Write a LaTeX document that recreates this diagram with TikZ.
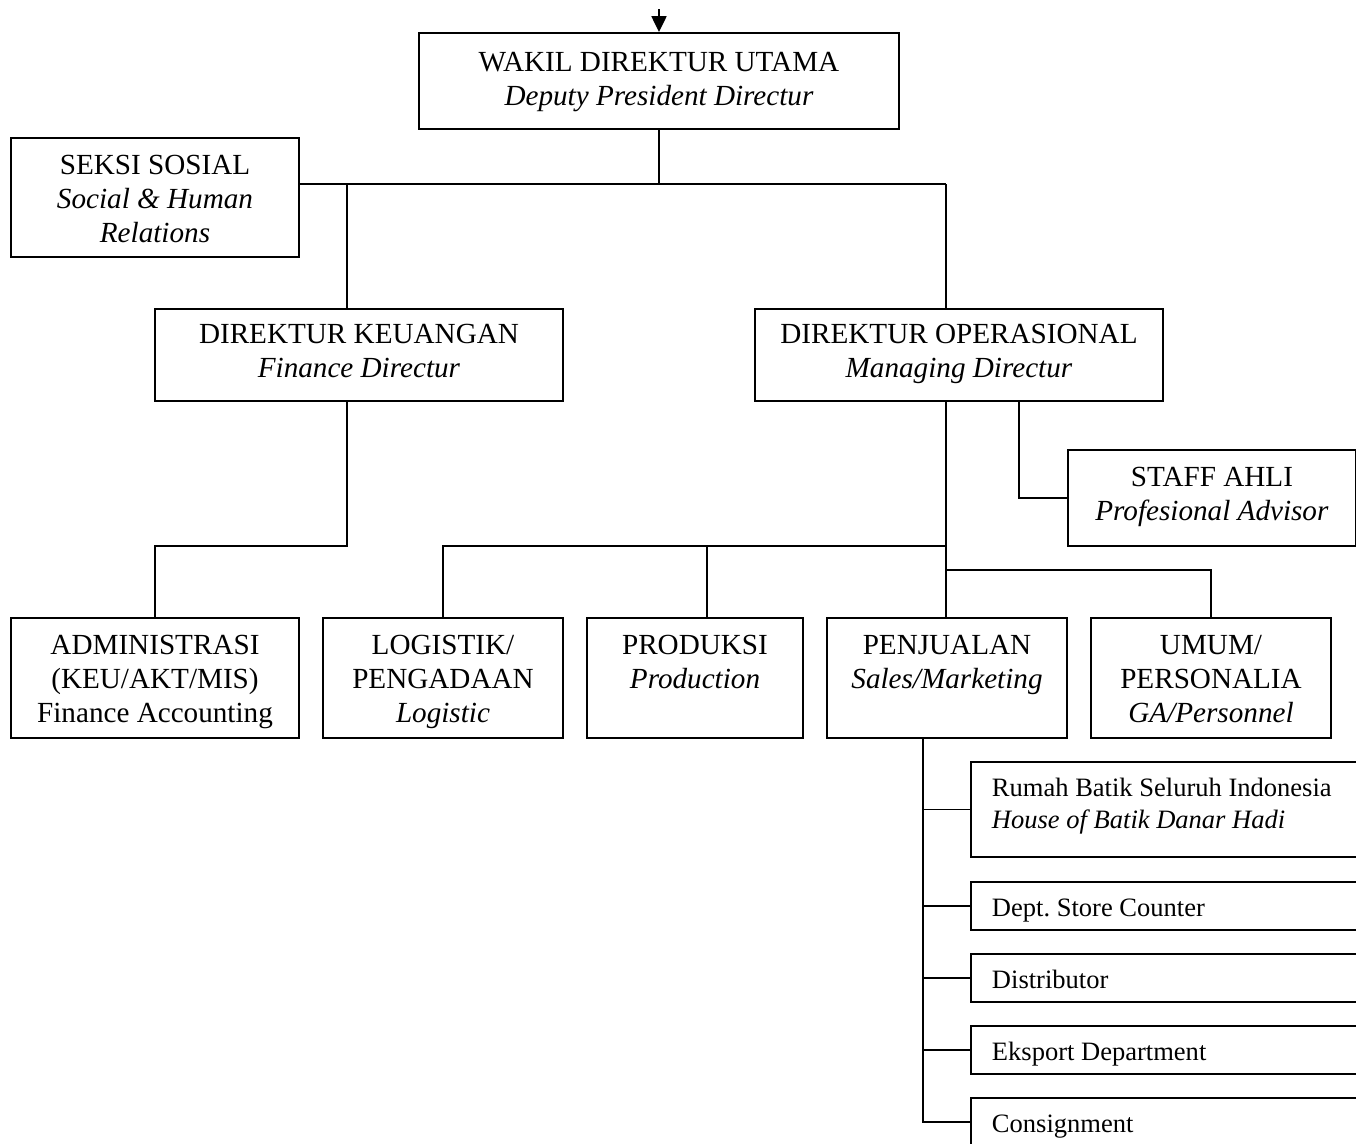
\documentclass[tikz,border=0pt]{standalone}
\usepackage{fontspec}
\setmainfont{Liberation Serif}
\usepackage{tikz}
\usetikzlibrary{arrows.meta, positioning, calc}
\frenchspacing
\newcommand{\bigtxt}{\fontsize{16.6}{19.35}\selectfont}
\newcommand{\smalltxt}{\fontsize{15.1}{18.2}\selectfont}
% box text: width, height, gap above first line, lines
\newcommand{\orgtext}[4]{\parbox[c][#2][t]{#1}{\centering\vspace*{#3}\strut #4}}
\newcommand{\unittext}[2]{\parbox[c][#1][t]{7.98cm}{\raggedright\vspace*{7pt}\strut #2}}
\tikzset{
  orgbox/.style={rectangle, draw=black, fill=white, line width=1.1pt,
    inner sep=0pt, font=\bigtxt},
  unitbox/.style={rectangle, draw=black, fill=white, line width=1.1pt,
    anchor=west, inner xsep=0.42cm, inner ysep=0pt, font=\smalltxt},
  link/.style={line width=1.1pt, color=black},
  arrow/.style={-{Triangle[length=9pt, width=8.5pt]}, line width=1.1pt, color=black}
}

\begin{document}
\begin{tikzpicture}[x=0.02cm, y=-0.02cm]
  \useasboundingbox (0,0) rectangle (1356,1143);
  \clip (0,0) rectangle (1356,1143);

  % top level
  \node[orgbox] (wakil) at (659,81)
    {\orgtext{9.6cm}{1.92cm}{8.5pt}{WAKIL DIREKTUR UTAMA\\\textit{Deputy President Directur}}};
  \node[orgbox] (seksi) at (155,197.5)
    {\orgtext{5.76cm}{2.38cm}{7.3pt}{SEKSI SOSIAL\\\textit{Social \& Human}\\\textit{Relations}}};

  % directors
  \node[orgbox] (keu) at (359,355)
    {\orgtext{8.16cm}{1.84cm}{6.2pt}{DIREKTUR KEUANGAN\\\textit{Finance Directur}}};
  \node[orgbox] (ops) at (959,355)
    {\orgtext{8.16cm}{1.84cm}{6.2pt}{DIREKTUR OPERASIONAL\\\textit{Managing Directur}}};
  \node[orgbox, anchor=west] (staff) at (1067,498)
    {\orgtext{5.76cm}{1.92cm}{7.3pt}{STAFF AHLI\\\textit{Profesional Advisor}}\hspace{2cm}};

  % departments
  \node[orgbox] (adm) at (155,678)
    {\orgtext{5.76cm}{2.4cm}{7.3pt}{ADMINISTRASI\\(KEU/AKT/MIS)\\Finance Accounting}};
  \node[orgbox] (log) at (443,678)
    {\orgtext{4.8cm}{2.4cm}{7.3pt}{LOGISTIK/\\PENGADAAN\\\textit{Logistic}}};
  \node[orgbox] (prod) at (695,678)
    {\orgtext{4.32cm}{2.4cm}{7.3pt}{PRODUKSI\\\textit{Production}}};
  \node[orgbox] (penj) at (947,678)
    {\orgtext{4.8cm}{2.4cm}{7.3pt}{PENJUALAN\\\textit{Sales/Marketing}}};
  \node[orgbox] (umum) at (1211,678)
    {\orgtext{4.8cm}{2.4cm}{7.3pt}{UMUM/\\PERSONALIA\\\textit{GA/Personnel}}};

  % sales units
  \node[unitbox] (rumah) at (970,809.5)
    {\unittext{1.9cm}{Rumah Batik Seluruh Indonesia\\\textit{House of Batik Danar Hadi}}};
  \node[unitbox] (dept) at (970,906) {\unittext{0.96cm}{Dept. Store Counter}};
  \node[unitbox] (dist) at (970,978) {\unittext{0.96cm}{Distributor}};
  \node[unitbox] (eks) at (970,1050) {\unittext{0.96cm}{Eksport Department}};
  \node[unitbox] (cons) at (970,1122) {\unittext{0.96cm}{Consignment}};

  % junctions
  \coordinate (in) at (659,9);
  \coordinate (jtop) at (659,184);
  \coordinate (jkeu) at (347,184);
  \coordinate (jops) at (946,184);
  \coordinate (jadm) at (347,546);
  \coordinate (jlog) at (946,546);
  \coordinate (jum) at (946,570);
  \coordinate (jst) at (1019,498);
  \coordinate (jsal) at (923,1122);

  \draw[arrow] (in) -- (wakil.north);
  \draw[link] (wakil.south) -- (jtop);
  \draw[link] (seksi.east |- jtop) -- (jops);
  \draw[link] (jkeu) -- (jkeu |- keu.north);
  \draw[link] (jops) -- (jops |- ops.north);

  \draw[link] (jkeu |- keu.south) -- (jadm) -| (adm.north);

  \draw[link] (jops |- ops.south) -- (jops |- penj.north);
  \draw[link] (jlog) -| (log.north);
  \draw[link] (707,546) -- (707,618);
  \draw[link] (jum) -| (umum.north);
  \draw[link] (jst |- ops.south) -- (jst) -- (staff.west);

  \draw[link] (jsal |- penj.south) -- (jsal) -- (cons.west);
  \foreach \u in {rumah, dept, dist, eks}
    \draw[link] (jsal |- \u.west) -- (\u.west);
\end{tikzpicture}
\end{document}
